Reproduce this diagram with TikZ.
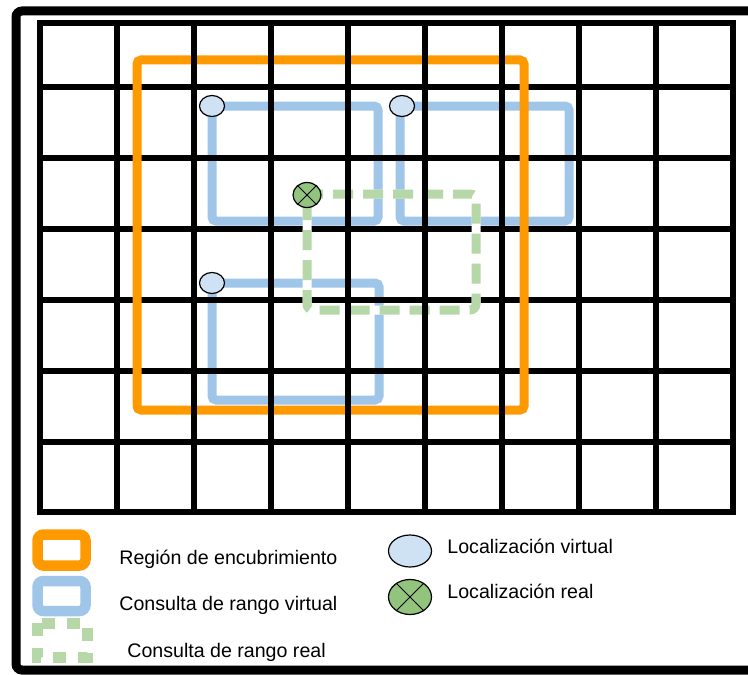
\documentclass[tikz,border=0pt]{standalone}
\usepackage{fontspec}
\setmainfont{Liberation Sans}
\usetikzlibrary{shapes.geometric}
\definecolor{naranja}{HTML}{FF9900}
\definecolor{azul}{HTML}{9FC5E8}
\definecolor{azulclaro}{HTML}{CFE2F3}
\definecolor{verde}{HTML}{B6D7A8}
\definecolor{verdeosc}{HTML}{93C47D}
\tikzset{
  rejilla/.style={line width=3.2pt, line cap=rect},
  region/.style={draw=naranja, line width=4.5pt, rounded corners=2pt},
  virtual/.style={draw=azul, line width=4.5pt, rounded corners=2pt},
  real/.style={draw=verde, line width=4.5pt, rounded corners=3pt,
    dash pattern=on 10pt off 5pt,
    preaction={draw=white, solid, line width=4.5pt}},
  locv/.style={ellipse, draw, fill=azulclaro, line width=0.6pt, inner sep=0,
    minimum width=12.5pt, minimum height=10.5pt},
  locr/.style={ellipse, draw, fill=verdeosc, line width=0.6pt, inner sep=0,
    minimum width=14pt, minimum height=12.5pt},
  etiqueta/.style={anchor=base west, inner sep=0}
}

\begin{document}
\begin{tikzpicture}[x=0.5pt, y=-0.5pt, font=\fontsize{9.8}{12}\selectfont]
\clip (0,0) rectangle (748,674);
\draw[line width=4.5pt, rounded corners=3pt] (16,11) rectangle (770,670);
% consultas virtuales
\draw[virtual] (212,106) rectangle (378,221);
\draw[virtual] (400,106) rectangle (569,221);
\draw[virtual] (212,283) rectangle (379,400);
\foreach \y in {23,87,158,229,300,371,442,512}
  \draw[rejilla] (40,\y) -- (733,\y);
\draw[region] (137,60) rectangle (524,410);
\draw[real] (307,194) rectangle (476,310);
\foreach \x in {40,117,...,733}
  \draw[rejilla] (\x,23) -- (\x,512);
% localizaciones
\node[locv] (v1) at (212,106) {};
\node[locv] (v2) at (402,106) {};
\node[locv] (v3) at (212,283) {};
\node[locr] (r) at (307,195) {};
\draw[line width=0.5pt] (r.45) -- (r.225) (r.135) -- (r.-45);
% leyenda
\draw[region, line width=5.25pt, rounded corners=3pt] (37.5,534.5) rectangle (85.5,565.5);
\draw[virtual, line width=5.25pt, rounded corners=3pt] (37.5,581) rectangle (85.5,611);
\draw[real, line width=5.5pt, rounded corners=0pt, dash pattern=on 6.5pt off 6pt] (37,623) rectangle (87,657);
\node[etiqueta] (treg) at (119,564) {Región de encubrimiento};
\node[etiqueta] (tvir) at (119,610) {Consulta de rango virtual};
\node[etiqueta] (treal) at (127,657) {Consulta de rango real};
\node[locv, minimum width=21.5pt, minimum height=16pt] (lv) at (410,551) {};
\node[locr, minimum width=21.5pt, minimum height=17.5pt] (lr) at (410,597) {};
\draw[line width=0.5pt] (lr.45) -- (lr.225) (lr.135) -- (lr.-45);
\node[etiqueta] (tlv) at (447,553) {Localización virtual};
\node[etiqueta] (tlr) at (447,598) {Localización real};
\end{tikzpicture}
\end{document}
